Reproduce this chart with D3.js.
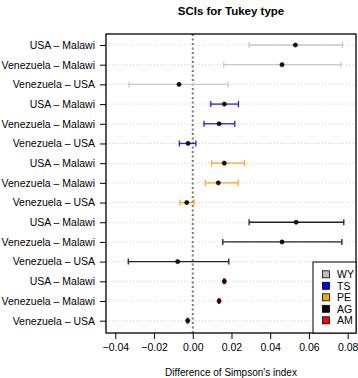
<!DOCTYPE html>
<html>
<head>
<meta charset="utf-8">
<script src="https://cdn.jsdelivr.net/npm/d3@7"></script>
<style>
  body { margin: 0; background: #fff; }
  text { font-family: "Liberation Sans", Arial, Helvetica, sans-serif; }
</style>
</head>
<body>
<div id="chart"></div>
<script>
// comparisons within each group (top to bottom)
var comparisons = ["USA \u2013 Malawi", "Venezuela \u2013 Malawi", "Venezuela \u2013 USA"];
// groups, top to bottom, and their colours
var groups = ["WY", "TS", "PE", "AG", "AM"];
var groupColors = ["#BEBEBE", "#0000FF", "#FFA500", "#000000", "#FF0000"];
var lineColors = ["#C8C8C8", "#1F1FFF", "#FFA51A", "#222222", "#FF0000"];

// estimates and interval bounds, one array per group, same order as comparisons
var estimate = {
  WY: [0.0530, 0.0461, -0.0071],
  TS: [0.0163, 0.0136, -0.0024],
  PE: [0.0163, 0.0132, -0.0031],
  AG: [0.0534, 0.0461, -0.0078],
  AM: [0.0163, 0.0136, -0.0026]
};
var lower = {
  WY: [0.0291, 0.0160, -0.0329],
  TS: [0.0093, 0.0058, -0.0069],
  PE: [0.0098, 0.0065, -0.0066],
  AG: [0.0291, 0.0155, -0.0333],
  AM: [0.0160, 0.0133, -0.0029]
};
var upper = {
  WY: [0.0773, 0.0765, 0.0182],
  TS: [0.0236, 0.0217, 0.0016],
  PE: [0.0267, 0.0234, 0.0007],
  AG: [0.0780, 0.0770, 0.0186],
  AM: [0.0166, 0.0139, -0.0023]
};
var xTicks = [-0.04, -0.02, 0.00, 0.02, 0.04, 0.06, 0.08];

// flatten into rows
var rows = [];
groups.forEach(function(g, gi) {
  comparisons.forEach(function(c, ci) {
    rows.push({ id: g + ci, label: c, group: g, gi: gi,
      est: estimate[g][ci], lo: lower[g][ci], hi: upper[g][ci] });
  });
});

var width = 358, height = 378;
var plotLeft = 106, plotRight = 356, plotTop = 34, plotBottom = 333;

var svg = d3.select("#chart").append("svg").attr("width", width).attr("height", height);

var x = d3.scaleLinear().domain([-0.0448, 0.0843]).range([plotLeft, plotRight]);
var y = d3.scalePoint().domain(rows.map(function(d) { return d.id; })).range([45, 320.7]);

// title
svg.append("text").attr("x", (plotLeft + plotRight) / 2).attr("y", 15).attr("text-anchor", "middle")
  .style("font-size", "11.5px").style("font-weight", "bold").text("SCIs for Tukey type");

// dotted row guides
svg.selectAll(".guide").data(rows).enter().append("line")
  .attr("x1", plotLeft).attr("x2", plotRight)
  .attr("y1", function(d) { return y(d.id); }).attr("y2", function(d) { return y(d.id); })
  .attr("stroke", "#d0d0d0").attr("stroke-width", 1).attr("stroke-dasharray", "1,2");

// zero reference line
svg.append("line").attr("x1", x(0)).attr("x2", x(0)).attr("y1", plotTop).attr("y2", plotBottom)
  .attr("stroke", "#777").attr("stroke-width", 2).attr("stroke-dasharray", "2,2.5");

// intervals
var bars = svg.selectAll(".ci").data(rows).enter().append("g")
  .attr("stroke", function(d) { return lineColors[d.gi]; }).attr("stroke-width", 1.3);
bars.append("line")
  .attr("x1", function(d) { return x(d.lo); }).attr("x2", function(d) { return x(d.hi); })
  .attr("y1", function(d) { return y(d.id); }).attr("y2", function(d) { return y(d.id); });
bars.append("line")
  .attr("x1", function(d) { return x(d.lo); }).attr("x2", function(d) { return x(d.lo); })
  .attr("y1", function(d) { return y(d.id) - 3; }).attr("y2", function(d) { return y(d.id) + 3; });
bars.append("line")
  .attr("x1", function(d) { return x(d.hi); }).attr("x2", function(d) { return x(d.hi); })
  .attr("y1", function(d) { return y(d.id) - 3; }).attr("y2", function(d) { return y(d.id) + 3; });

// point estimates
svg.selectAll(".pt").data(rows).enter().append("circle")
  .attr("cx", function(d) { return x(d.est); }).attr("cy", function(d) { return y(d.id); })
  .attr("r", 2.1).attr("fill", "#111").attr("stroke", "#000").attr("stroke-width", 0.6);

// axes
var xAxis = svg.append("g").attr("transform", "translate(0," + plotBottom + ")")
  .call(d3.axisBottom(x).tickValues(xTicks).tickSize(6).tickPadding(5)
    .tickFormat(function(d) { return d3.format(".2f")(d).replace("-", "\u2212"); }));
xAxis.select(".domain").remove();
xAxis.selectAll("line").attr("stroke", "#000");
xAxis.selectAll("text").style("font-size", "10.5px").style("font-family", "Liberation Sans, Arial, sans-serif").attr("fill", "#000");

var yAxis = svg.append("g").attr("transform", "translate(" + plotLeft + ",0)")
  .call(d3.axisLeft(y).tickSize(6).tickPadding(5).tickFormat(function(id) {
    return rows.find(function(r) { return r.id === id; }).label;
  }));
yAxis.select(".domain").remove();
yAxis.selectAll("line").attr("stroke", "#000");
yAxis.selectAll("text").style("font-size", "10.5px").style("font-family", "Liberation Sans, Arial, sans-serif").attr("fill", "#000");

// plot box
svg.append("rect").attr("x", plotLeft).attr("y", plotTop).attr("width", plotRight - plotLeft).attr("height", plotBottom - plotTop)
  .attr("fill", "none").attr("stroke", "#000").attr("stroke-width", 1.3);

// x label
svg.append("text").attr("x", (plotLeft + plotRight) / 2).attr("y", 376).attr("text-anchor", "middle")
  .style("font-size", "10px").text("Difference of Simpson's index");

// legend
var lg = svg.append("g");
lg.append("rect").attr("x", 313).attr("y", 262).attr("width", plotRight - 313).attr("height", plotBottom - 262)
  .attr("fill", "#fff").attr("stroke", "#000").attr("stroke-width", 1);
var items = lg.selectAll(".item").data(groups).enter().append("g")
  .attr("transform", function(d, i) { return "translate(0," + (274.3 + i * 11.5) + ")"; });
items.append("rect").attr("x", 322.5).attr("y", -3.5).attr("width", 7).attr("height", 7)
  .attr("fill", function(d, i) { return groupColors[i]; }).attr("stroke", "#000").attr("stroke-width", 0.8);
items.append("text").attr("x", 337).attr("y", 4).style("font-size", "10.5px").text(function(d) { return d; });
</script>
</body>
</html>
